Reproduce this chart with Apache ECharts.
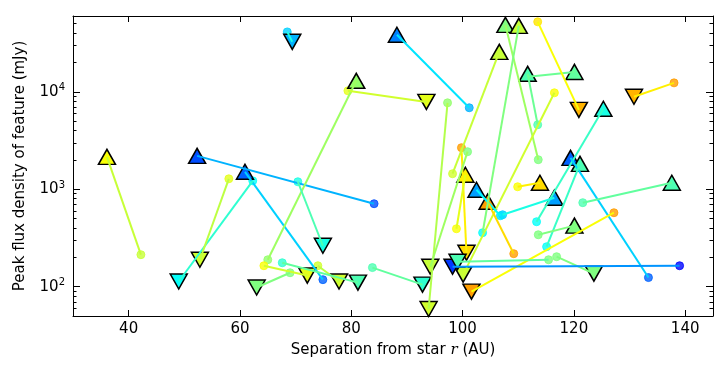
<!DOCTYPE html>
<html>
<head>
<meta charset="utf-8">
<script src="https://cdn.jsdelivr.net/npm/echarts@6/dist/echarts.min.js"></script>
<style>
  html, body { margin: 0; padding: 0; background: #fff; }
  #chart { width: 728px; height: 366px; }
</style>
</head>
<body>
<div id="chart"></div>
<script>
  // each feature: first epoch (circle) -> last epoch (triangle)
  var startSep  = [42.2, 84.1, 74.9, 62.3, 58.0, 68.5, 65.0, 79.4, 101.2, 70.4, 64.3, 74.0, 67.6, 83.8, 69.0,
                   113.6, 113.5, 111.8, 113.5, 138.0, 113.3, 116.5, 133.4, 115.1, 109.9, 127.2, 121.6, 113.6, 116.9,
                   139.0, 107.2, 106.8, 109.2, 99.8, 97.3, 100.9, 98.9, 103.6, 98.2, 115.45]
  var startFlux = [213, 710, 118, 1220, 1280, 41200, 189, 10240, 6860, 1194, 164, 164, 176, 157, 139,
                   2010, 4590, 14260, 52300, 12360, 464, 9770, 124, 257, 1060, 574, 728, 341, 203,
                   164, 547, 535, 218, 2670, 7710, 2430, 393, 358, 1443, 189]
  var endSep    = [36.1, 52.3, 60.9, 49.0, 52.8, 69.4, 80.9, 93.5, 88.2, 74.9, 72.1, 77.8, 81.2, 92.8, 63.0,
                   107.7, 111.7, 120.1, 120.9, 130.8, 125.3, 100.1, 119.4, 121.1, 113.9, 101.6, 137.6, 120.1, 123.6,
                   98.2, 116.5, 102.5, 104.5, 100.7, 93.9, 94.2, 100.5, 110.1, 106.6, 99.1]
  var endFlux   = [2150, 2200, 1510, 113, 189, 32600, 12970, 7880, 38500, 263, 130, 113, 110, 105, 98,
                   48600, 15300, 16000, 6530, 8890, 6700, 133, 2100, 1820, 1167, 89, 1167, 423, 136,
                   160, 819, 989, 745, 223, 59, 160, 1409, 47500, 25700, 180]
  // colour scale value (0..1 on a jet map) for circle, triangle and joining line
  var startC = [0.57, 0.2, 0.22, 0.38, 0.6, 0.33, 0.52, 0.6, 0.3, 0.4, 0.62, 0.58, 0.42, 0.45, 0.5,
                0.5, 0.45, 0.47, 0.65, 0.72, 0.38, 0.62, 0.22, 0.38, 0.62, 0.72, 0.45, 0.5, 0.5,
                0.13, 0.33, 0.35, 0.72, 0.72, 0.52, 0.5, 0.62, 0.38, 0.58, 0.5]
  var endC   = [0.62, 0.2, 0.22, 0.38, 0.58, 0.3, 0.52, 0.6, 0.25, 0.4, 0.6, 0.58, 0.45, 0.42, 0.5,
                0.5, 0.45, 0.47, 0.7, 0.7, 0.4, 0.57, 0.22, 0.45, 0.66, 0.72, 0.45, 0.5, 0.5,
                0.18, 0.28, 0.28, 0.72, 0.66, 0.58, 0.57, 0.64, 0.57, 0.57, 0.45]
  var lineC  = [0.57, 0.3, 0.33, 0.42, 0.56, 0.4, 0.53, 0.58, 0.35, 0.45, 0.58, 0.56, 0.47, 0.47, 0.5,
                0.53, 0.48, 0.48, 0.62, 0.64, 0.43, 0.58, 0.33, 0.43, 0.64, 0.62, 0.47, 0.5, 0.5,
                0.27, 0.4, 0.37, 0.66, 0.64, 0.55, 0.53, 0.6, 0.5, 0.57, 0.47]

  var xTicks = [40, 60, 80, 100, 120, 140]
  var yTicks = [100, 1000, 10000]
  var yMinor = [60, 70, 80, 90, 200, 300, 400, 500, 600, 700, 800, 900,
                2000, 3000, 4000, 5000, 6000, 7000, 8000, 9000, 20000, 30000, 40000, 50000]

  function jet (v) {
    var c = function (x) { return Math.round(255 * Math.max(0, Math.min(1, x))) }
    return 'rgb(' + c(1.5 - Math.abs(4 * v - 3)) + ',' + c(1.5 - Math.abs(4 * v - 2)) + ',' + c(1.5 - Math.abs(4 * v - 1)) + ')'
  }

  var lineData = [], circleData = [], upData = [], downData = []
  for (var i = 0; i < startSep.length; i++) {
    lineData.push({
      coords: [[startSep[i], startFlux[i]], [endSep[i], endFlux[i]]],
      lineStyle: { color: jet(lineC[i]) }
    })
    circleData.push({ value: [startSep[i], startFlux[i]], itemStyle: { color: jet(startC[i]), borderColor: jet(startC[i]) } })
    var tri = { value: [endSep[i], endFlux[i]], itemStyle: { color: jet(endC[i]) } }
    if (endFlux[i] >= startFlux[i]) upData.push(tri)
    else downData.push(tri)
  }

  var font = 'DejaVu Sans'
  var chart = echarts.init(document.getElementById('chart'))
  chart.setOption({
    animation: false,
    backgroundColor: '#fff',
    grid: { left: 73, right: 15, top: 16, bottom: 50 },
    xAxis: [{
      type: 'value', min: 30, max: 145, position: 'bottom',
      name: 'Separation from star {i|r} (AU)',
      nameLocation: 'middle', nameGap: 27,
      nameTextStyle: {
        fontFamily: font, fontSize: 15, color: '#000',
        rich: { i: { fontFamily: 'DejaVu Serif', fontStyle: 'italic', fontSize: 15, color: '#000' } }
      },
      axisLine: { lineStyle: { color: '#000', width: 1 } },
      axisTick: { inside: true, length: 6, customValues: xTicks, lineStyle: { color: '#000' } },
      axisLabel: { customValues: xTicks, fontFamily: font, fontSize: 15, color: '#000', margin: 6 },
      splitLine: { show: false }
    }, {
      type: 'value', min: 30, max: 145, position: 'top',
      axisLine: { lineStyle: { color: '#000', width: 1 } },
      axisTick: { inside: true, length: 6, customValues: xTicks, lineStyle: { color: '#000' } },
      axisLabel: { show: false },
      splitLine: { show: false }
    }],
    yAxis: [{
      type: 'log', logBase: 10, min: 50, max: 60000, position: 'left',
      name: 'Peak flux density of feature (mJy)',
      nameLocation: 'middle', nameGap: 45,
      nameTextStyle: { fontFamily: font, fontSize: 15, color: '#000' },
      axisLine: { lineStyle: { color: '#000', width: 1 } },
      axisTick: { inside: true, length: 7, customValues: yTicks, lineStyle: { color: '#000' } },
      axisLabel: {
        customValues: yTicks, margin: 8,
        fontFamily: font, fontSize: 15, color: '#000',
        formatter: function (v) { return '10{s|' + Math.round(Math.log10(v)) + '}' },
        rich: { s: { fontFamily: font, fontSize: 10, color: '#000', verticalAlign: 'top', padding: [0, 0, 8, 0] } }
      },
      splitLine: { show: false }
    }, {
      type: 'log', logBase: 10, min: 50, max: 60000, position: 'left',
      axisLine: { show: false },
      axisTick: { inside: true, length: 3.5, customValues: yMinor, lineStyle: { color: '#000' } },
      axisLabel: { show: false },
      splitLine: { show: false }
    }, {
      type: 'log', logBase: 10, min: 50, max: 60000, position: 'right',
      axisLine: { lineStyle: { color: '#000', width: 1 } },
      axisTick: { inside: true, length: 7, customValues: yTicks, lineStyle: { color: '#000' } },
      axisLabel: { show: false },
      splitLine: { show: false }
    }, {
      type: 'log', logBase: 10, min: 50, max: 60000, position: 'right',
      axisLine: { show: false },
      axisTick: { inside: true, length: 3.5, customValues: yMinor, lineStyle: { color: '#000' } },
      axisLabel: { show: false },
      splitLine: { show: false }
    }],
    series: [{
      type: 'scatter', name: 'first', symbol: 'circle', symbolSize: 8,
      data: circleData, itemStyle: { opacity: 0.8, borderWidth: 1 }, z: 2
    }, {
      type: 'scatter', name: 'rising', symbol: 'triangle', symbolSize: [17, 15],
      data: upData, itemStyle: { borderColor: '#000', borderWidth: 1.5, opacity: 1 }, z: 3
    }, {
      type: 'scatter', name: 'fading', symbol: 'triangle', symbolSize: [17, 15], symbolRotate: 180,
      data: downData, itemStyle: { borderColor: '#000', borderWidth: 1.5, opacity: 1 }, z: 3
    }, {
      type: 'lines', coordinateSystem: 'cartesian2d', polyline: false,
      data: lineData, lineStyle: { width: 2, opacity: 1 }, z: 4, silent: true
    }]
  })
</script>
</body>
</html>
